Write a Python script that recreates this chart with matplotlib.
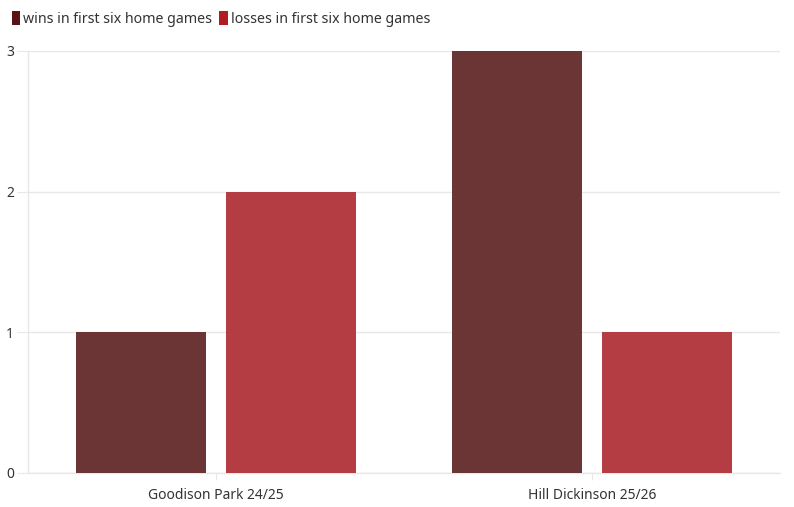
import numpy as np
import matplotlib.pyplot as plt
from matplotlib.patches import Patch

# Data
categories = ["Goodison Park 24/25", "Hill Dickinson 25/26"]
wins = [1, 3]
losses = [2, 1]
series_labels = ["wins in first six home games", "losses in first six home games"]

WIN_COLOR = "#6b3536"
LOSS_COLOR = "#b33d42"
WIN_KEY = "#5a1212"
LOSS_KEY = "#b01c22"
GRID = "#e8e8e8"
TEXT = "#333333"

plt.rcParams['font.family'] = ['Noto Sans', 'DejaVu Sans']

fig = plt.figure(figsize=(7.94, 5.07), dpi=100)
ax = fig.add_axes([28 / 794, 1 - 473 / 507, 752 / 794, 422 / 507])

x = np.arange(len(categories))
width = 0.346
ax.bar(x - 0.2, wins, width, color=WIN_COLOR, zorder=3)
ax.bar(x + 0.2, losses, width, color=LOSS_COLOR, zorder=3)

ax.set_xlim(-0.5, 1.5)
ax.set_ylim(0, 3)
ax.set_yticks([0, 1, 2, 3])
ax.set_xticks(x)
ax.set_xticklabels(categories)
ax.grid(axis='y', color=GRID, linewidth=1, zorder=0)

for side in ['top', 'right']:
    ax.spines[side].set_visible(False)
for side in ['left', 'bottom']:
    ax.spines[side].set_color(GRID)
    ax.spines[side].set_linewidth(1)

ax.tick_params(axis='y', length=8, color=GRID, labelsize=10, labelcolor=TEXT, pad=2)
ax.tick_params(axis='x', length=5, color=GRID, labelsize=10, labelcolor=TEXT, pad=6)

handles = [Patch(facecolor=WIN_KEY, edgecolor='none'),
           Patch(facecolor=LOSS_KEY, edgecolor='none')]
fig.legend(handles, series_labels, loc='upper left', bbox_to_anchor=(-0.001, 1.003),
           ncol=2, frameon=False, fontsize=10.2, labelcolor=TEXT,
           handlelength=0.6, handleheight=1.1, handletextpad=0.2, columnspacing=0.5)

fig.savefig("out.png", dpi=100)
